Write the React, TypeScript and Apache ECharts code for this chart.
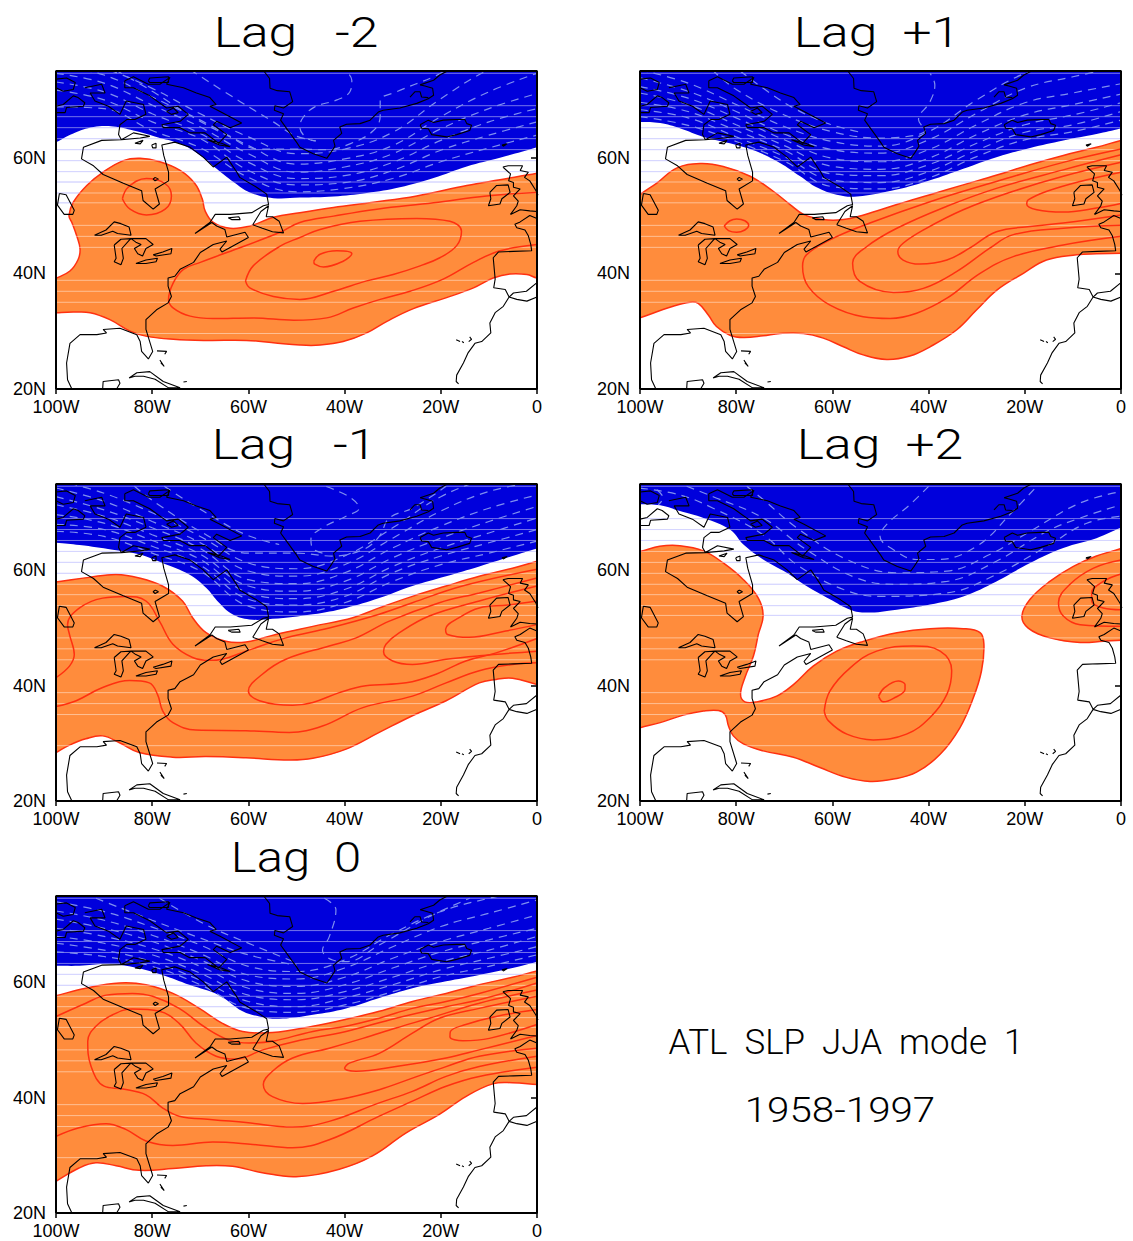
import React, { useEffect, useRef } from "react";
import * as echarts from "echarts";

type P = [number, number];

// ---- tick labels and texts
const xTicks = [-100, -80, -60, -40, -20, 0];
const yTicks = [20, 40, 60];
const panelTitles = ["Lag   -2", "Lag  +1", "Lag   -1", "Lag  +2", "Lag  0"];
const noteLines = ["ATL  SLP  JJA  mode  1", "1958-1997"];
const rowLats = [74.6, 69, 67.1, 65.2, 63.3, 61.4, 59.5, 57.6, 55.8, 53.9, 52.2, 48.3, 46.4, 44.5, 38.8, 36.9, 35, 29.6];
const rowLatsOnWhite = [74.6, 69, 67.1, 65.2, 63.3, 61.4, 59.5, 57.6, 55.8, 53.9, 52.2];
const dashLons = [-100, -90, -80, -70, -60, -50, -40, -30, -20, -10, 0];

// ---- coastlines (lon, lat)
const greenland: P[] = [[-56.8,75],[-55.6,73.7],[-55.5,72],[-54,71.6],[-51.4,71.4],[-50.8,69.7],[-52.7,68.6],[-54.5,69],[-54.6,68.2],[-52.7,67.6],[-53.3,66.5],[-52,65],[-50,62.7],[-49.3,61.8],[-46.5,60.7],[-43.7,59.9],[-43,60.7],[-42,62],[-42.3,63],[-40.6,64.2],[-41,65.3],[-39.6,65.8],[-36.8,65.9],[-34.7,66.5],[-33,67.9],[-32,68.2],[-28.5,68.6],[-25,69.4],[-22.6,70.2],[-21.5,70.8],[-21.7,72],[-23.3,72.4],[-24.3,72.6],[-21.5,73.4],[-20.2,74.3],[-18.8,74.9]];
const greenlandFjord: P[] = [[-26.4,70.5],[-25.4,71.4],[-24.3,71.4],[-24,70.5],[-22.6,70.4]];
const iceland: P[] = [[-24.3,65.7],[-22.6,66.5],[-21.5,66.1],[-19.5,66.5],[-16.7,66.6],[-15,66.6],[-14.6,65.9],[-13.6,65.6],[-14,64.7],[-16.7,64],[-18.8,63.6],[-21.9,64],[-22.6,65],[-24,65.1],[-24.3,65.7]];
const faroe: P[] = [[-7.3,62.2],[-6.2,62.4],[-7,62],[-7.3,62.2]];
const ireland: P[] = [[-9.8,54],[-8.4,55.2],[-6,55.3],[-5.6,54],[-7.3,52.9],[-7.7,52],[-10.1,51.7],[-9.6,52.9],[-9.8,54]];
const britain: P[] = [[-7.1,58.4],[-6,58.6],[-3,58.6],[-3.5,57.8],[-1.8,57.5],[-2.6,56.6],[-1.5,56],[-0.2,54.3],[0.2,53.5],[null as any,null as any],[-7.1,58.4],[-5.5,57.2],[-5.9,56],[-4.9,55.7],[-4.9,54.9],[-3.5,54.6],[-4.9,53.4],[-3.9,52.5],[-4.2,51.7],[-5.5,50.2],[-3.5,51],[-1.5,50.8],[0,50.7]];
const franceIberia: P[] = [[0,49.5],[-1.5,50],[-3.5,48.9],[-4.6,48.5],[-4.2,47.9],[-2.5,47.5],[-1.8,46.5],[-1.3,45],[-1.1,43.9],[-4.9,43.8],[-8,43.7],[-9.1,42.7],[-8.7,39],[-9,37.5],[-6.6,37.2],[-5.8,35.9],[-4.9,36.6],[-2.2,36.9],[0,38.4]];
const africa: P[] = [[0,35.9],[-2.1,35.2],[-4.2,35.5],[-5.8,35.9],[-7,34.3],[-8.7,33.2],[-9.8,31.4],[-9.6,29.7],[-11.5,28.2],[-12.9,27.9],[-14.3,26.3],[-15.3,24.5],[-16.7,22.4],[-16.8,21.3],[-16.3,20.9]];
const canaries: P[] = [[-16.8,28.5],[-16,28.2],[null as any,null as any],[-15.6,28.2],[-15.2,28],[null as any,null as any],[-14,29],[-13.6,28.6],[-14.2,28.2]];
const eastUS: P[] = [[-96.7,20],[-97.6,21.6],[-97.8,24.5],[-97.1,27.9],[-95,29.4],[-91.5,29.4],[-89.5,29.7],[-90.2,30.3],[-86.7,30.5],[-83.2,29.4],[-82.5,28.2],[-82.2,26.5],[-80.8,25.2],[-79.9,26.5],[-81.3,30.3],[-81.3,32],[-79.1,33.7],[-76.7,34.9],[-76,36],[-76.7,37.8],[-76.7,39.2],[-75.3,39.5],[-74.2,40.7],[-71.4,41.9],[-70,43.6],[-67.3,45],[-64.5,45.6],[-65.9,44.2],[-65.5,43.7],[-60,46.2],[-60.7,47.1],[-64.5,46.3],[-64.9,47.6],[-66.6,48.2],[-67.6,48.8],[-71.1,46.9],[-68,48.8],[-66.9,50.2],[-63.8,50.2],[-59.3,50.5],[-56.9,51.7],[-55.8,51.9],[-56.2,53.7],[-58.3,54.9],[-61.8,56.6],[-62.4,57.5],[-64.5,60.1],[-67.3,58.4],[-69.4,60.1],[-72.1,61.8],[-75.3,62.7],[-78,62.2],[-77.6,60.4],[-76.6,57.5],[-76.6,56],[-79.4,54.6],[-78.5,52],[-79.8,51.1],[-81.9,52.6],[-82.2,54.3],[-86,55.6],[-90.2,57.1],[-92.2,58.6],[-94.7,59.8],[-94.3,61.8],[-90.5,63],[-86.4,63.1]];
const newfoundland: P[] = [[-59.1,48.4],[-57.4,50.7],[-55.8,51.7],[-56.3,49.8],[-55,49.8],[-53.6,49],[-52.7,47],[-55,47.2],[-57.1,47.8],[-59.1,48.4]];
const anticosti: P[] = [[-64.2,49.6],[-62,49.8],[-61.7,49.3],[-63.5,49.3],[-64.2,49.6]];
const superior: P[] = [[-92,46.6],[-89.6,47.5],[-87.9,48.9],[-86.5,48.6],[-84.8,48],[-84.4,46.6],[-87.2,46.9],[-88.2,47.3],[-90.6,46.6],[-92,46.6]];
const michigan: P[] = [[-87.9,44.9],[-87.5,42.6],[-87.9,42],[-86.5,41.5],[-86,42.6],[-86.3,44.3],[-84.8,45.7],[-84.4,46],[-86.5,45.9],[-87.9,44.9]];
const huron: P[] = [[-84.4,46],[-81.3,46],[-79.8,45],[-81.3,44.3],[-82,43],[-83,43.4],[-83.7,44.3],[-82.3,45],[-83.4,45.4],[-84.4,46]];
const erie: P[] = [[-83.4,41.7],[-81.3,42.3],[-78.9,42.6],[-79.2,42],[-81.3,41.7],[-83.4,41.7]];
const ontario: P[] = [[-79.8,43.2],[-77.8,43.7],[-75.9,44.3],[-76.1,43.4],[-79.2,43],[-79.8,43.2]];
const winnipeg: P[] = [[-99.3,53.8],[-97.9,53.6],[-96.2,50.9],[-96.5,50.2],[-98.3,50.2],[-99.7,51.8],[-99.3,53.8]];
const cuba: P[] = [[-84.8,21.9],[-83.2,22.8],[-80.5,23],[-77.7,21.3],[-74.2,20.2],[-76.6,20.2],[-79.4,21.7],[-81.8,22.2],[-83.6,22.2],[-84.8,21.9]];
const yucatan: P[] = [[-90.3,20],[-90.2,21.3],[-87,21.6],[-86.7,21],[-87.4,20]];
const bahamas: P[] = [[-79,26.6],[-77,26.5],[-77.4,26],[null as any,null as any],[-78.4,25],[-77.5,23.9],[-78.2,24.5],[null as any,null as any],[-73.5,21.2],[-72.8,21.3]];
const arcticWest: P[] = [[-100,68.9],[-98.5,69.2],[-96.4,70.7],[-95.4,70.4],[-94,69.5],[-94.3,68.9],[-97.8,68.7],[-98.1,67.8],[-100,67.8]];
const arcticIsland: P[] = [[-100,73.6],[-97.8,73.8],[-96,73],[-96.4,71.8],[-98.5,71.5],[-100,72.1]];
const arcticMainland: P[] = [[-94,72.1],[-90.5,72.7],[-89.8,71.2],[-92.9,71.2],[-91.9,69.8],[-89.1,68.9],[-86.7,67.5],[-85.4,69.8],[-81.8,69.2],[-81.3,67.5],[-83.6,66.6],[-85.3,66.6],[-86.7,65.7],[-87,64],[-86.4,63.1],[-83.9,64.3],[-80.5,63.7],[-82.5,63.4],[-86.4,63.1]];
const baffin: P[] = [[-85.7,73.3],[-83.9,74],[-80.8,72.7],[-78.4,72.7],[-76.3,73.9],[-77,72.7],[-73.5,72.1],[-70.8,71.2],[-68,70.4],[-66.7,69.2],[-68,68.9],[-65.9,68],[-61.4,66],[-63.8,65.2],[-66.6,66.3],[-67.3,65.7],[-64.5,64],[-66.2,62.5],[-69,64.3],[-72.2,64.3],[-74.2,65.2],[-77.7,65.2],[-78,65.7],[-74.2,66.3],[-72.5,67.5],[-74.6,68.9],[-77,68.6],[-80.5,70.7],[-83.9,72.1],[-85.7,72.1],[-85.7,73.3]];
const devon: P[] = [[-80.8,73.3],[-80.5,73.8],[-76.6,74],[-76.6,73],[-80.5,73],[-80.8,73.3]];
const foxe: P[] = [[-77,68],[-75.6,68.6],[-74.6,67.8],[-76,67.5],[-77,68]];
const coats: P[] = [[-83.6,62.5],[-81.9,63],[-82.5,62.4],[-83.6,62.5]];
const mansel: P[] = [[-80.1,62.2],[-79.2,62.5],[-79.2,61.7],[-79.9,61.7],[-80.1,62.2]];
const akimiski: P[] = [[-79.4,56.6],[-78.7,56.3],[-79.4,56],[-79.8,56.3],[-79.4,56.6]];
const resolution: P[] = [[-68.5,63.1],[-65.6,62.5],[-63.8,61.9],[-66,62.2],[-68.5,63.1]];
const coastLines = [greenland, greenlandFjord, iceland, faroe, ireland, britain, franceIberia, africa, canaries, eastUS, newfoundland, anticosti, superior, michigan, huron, erie, ontario, winnipeg, cuba, yucatan, bahamas, arcticWest, arcticIsland, arcticMainland, baffin, devon, foxe, coats, mansel, akimiski, resolution];

// ---- Lag -2
const blueEdgeA: P[] = [[-106,60],[-99.9,62.7],[-96.4,64.2],[-92.2,65.3],[-88.1,65.4],[-83.9,64.7],[-79.1,63.6],[-74.2,62.4],[-70,60.4],[-66.6,58.1],[-63.1,55.8],[-59.7,54],[-54.8,53],[-49.3,53.1],[-42.3,53.3],[-35.4,53.9],[-28.5,54.9],[-21.5,56.5],[-14.6,58.5],[-7.7,60],[0,61.8],[6,63.5],[6,90],[-106,90]];
const orangeA: P[][] = [[[-105,37.5],[-99.9,39.2],[-97.1,40.4],[-95.4,42.4],[-95,44.2],[-95.7,46.5],[-96.7,48.8],[-97.3,50],[-96.4,52.3],[-93.6,55.2],[-90.2,57.5],[-86,59.5],[-82.5,59.9],[-78.4,59.3],[-74.2,57.8],[-71.1,55.5],[-69.6,52.9],[-69,50.8],[-67.3,48.8],[-63.8,47.8],[-59.7,48.2],[-54.8,49.7],[-49.3,50.5],[-42.3,51.4],[-34,52.3],[-25,53.4],[-14.6,55.2],[-7.7,56.2],[0,57.3],[6,58.3],[6,38.5],[0,39.2],[-2.1,39.8],[-5.6,39.9],[-9.1,39.2],[-13.2,37.5],[-18.8,35.8],[-25.7,33.9],[-31.2,31.7],[-35.4,29.7],[-40.3,28.2],[-45.1,27.6],[-49.3,27.6],[-54.8,28],[-60.4,28.4],[-68.7,28.4],[-75.6,28.6],[-81.1,29.1],[-84.6,30],[-88.8,32],[-92.9,33.2],[-96.4,33.3],[-99.9,33.2],[-105,33]]];
const redA: P[][] = [
  [[-86.2,52.9],[-85,54.9],[-81.2,56.4],[-77.3,55.5],[-76,53.4],[-77.3,51.1],[-81.2,50.1],[-84.6,51.1],[-86.2,52.9]],
  [[0,54],[-10.5,53.4],[-21.5,52.2],[-33.3,51.1],[-42.3,49.9],[-49.3,48.8],[-53.4,47.1],[-64.5,43.6],[-70,41.9],[-73.5,40.7],[-75.6,38.4],[-76.6,35.5],[-75.6,34],[-72.1,32.6],[-67.3,32.2],[-59,32.3],[-50.6,31.9],[-43.7,32.3],[-38.2,34],[-32.6,35.5],[-26.4,36.9],[-19.5,39],[-13.2,41.9],[-7.7,43.9],[0,45]],
  [[-60.6,38.7],[-59,41.3],[-53.4,44.7],[-49.3,46.2],[-45.1,47.6],[-36.8,49],[-25,49.5],[-18.1,49],[-15.7,47.3],[-16.7,44.8],[-20.2,42.7],[-24.3,41.3],[-29.9,39.8],[-35.4,38.7],[-42.3,36.9],[-49.3,35.5],[-54.8,36],[-59.7,37.5],[-60.6,38.7]],
  [[-46.4,42.1],[-45.1,43.3],[-41.6,43.9],[-38.5,43.4],[-40.3,42.1],[-44.4,41.1],[-46.2,41.6],[-46.4,42.1]],
];
const dashLatsA = [
  [68.8,68.5,64.7,61.7,56.6,54.1,54.7,56.4,59.3,61.7,63.9],
  [71.7,70,66.2,63.3,57.8,55.3,55.7,57.8,61.3,63.9,66.2],
  [73.1,71.4,67.6,64.2,59.2,56.4,56.9,59.2,63,66.2,68.5],
  [74.6,72.9,69.1,65.3,60.7,57.5,58.4,60.7,65,68.5,71.1],
  [76,74.3,70.5,66.5,62.1,58.9,59.8,62.1,67.1,71.4,74.6],
  [78,75.5,72,67.6,63.6,60.7,61.5,64.4,70.2,75.2,78],
];
const dashExtraA: P[][] = [
  [[-87.7,75.2],[-79.8,71.4],[-72.1,67.3],[-64.5,63.9],[-57.6,61.5],[-50.6,61.5],[-43.7,61.4],[-38.9,62.4],[-34,64.7],[-32.6,67.3],[-32.6,69.9],[-29.2,71.4],[-21.5,74],[-18.8,75.2]],
  [[-72.1,75.2],[-61.7,69.7],[-54.8,66.2],[-50.5,63.9],[-46,62.9]],
  [[-46,62.9],[-47.9,63.4],[-49.3,65.3],[-48.6,67],[-46.2,68.8],[-41.6,70],[-38.9,71.4],[-38.5,73.4],[-39.6,74.9]],
];

// ---- Lag +1
const blueEdgeB: P[] = [[-106,66.3],[-100,66.2],[-95.8,66],[-91.7,65.1],[-86.8,63.6],[-81.3,62.5],[-75.8,61.1],[-70.9,59.1],[-66.7,56.8],[-63.3,54.9],[-59.1,53.6],[-54.9,53.3],[-46.6,54.5],[-39.7,56.1],[-32.8,58.1],[-25.9,60.1],[-18.9,61.7],[-12,63],[-5.1,64.1],[0,65.1],[6,66.5],[6,90],[-106,90]];
const orangeB: P[][] = [[[-105,50],[-100,53.6],[-96.5,55.6],[-92.4,58.2],[-87.5,59],[-82.7,58.5],[-77.1,56.8],[-72.3,54.2],[-68.8,51.9],[-66,50.2],[-61.9,49.3],[-57.7,49.3],[-53.5,50.1],[-46.6,51.9],[-39.7,53.6],[-32.8,55.3],[-25.8,57],[-18.9,58.8],[-12,60.4],[-5.1,61.8],[0,63],[6,64.2],[6,43.4],[0,43.5],[-5.1,43.4],[-9.2,43.2],[-15.5,42.3],[-20.3,40],[-25.8,37.1],[-30,33.7],[-34.2,30.2],[-39.7,27.3],[-43.9,25.7],[-48.7,25.1],[-53.6,25.9],[-57.7,27.3],[-61.9,28.8],[-66,29.6],[-70.9,29.6],[-74.4,29.2],[-78.5,28.9],[-81.3,29.3],[-84.1,30.8],[-85.8,32.8],[-87.9,34.8],[-89.6,35],[-93.1,34.3],[-100,32.3],[-105,30.8]]];
const redB: P[][] = [
  [[-82.5,48.2],[-81.3,49.1],[-79.9,49.4],[-78.2,49.1],[-77.4,48.3],[-78.2,47.5],[-79.9,47.1],[-81.6,47.4],[-82.5,48.2]],
  [[0,61.5],[-12,59.2],[-25.9,55.9],[-39.7,52.4],[-52.2,48.7],[-60.5,45.8],[-65.4,43.2],[-66.2,41.2],[-65,37.7],[-60.5,34.5],[-53.6,32.5],[-48,32.2],[-42.5,33.1],[-36.2,35.7],[-29.3,40],[-22.4,42.9],[-12,44.9],[0,46.4]],
  [[0,60.5],[-12,57.9],[-25.9,54.7],[-36.2,51.6],[-46.6,47.8],[-52.9,44.6],[-55.8,41.8],[-54.3,38.6],[-47.3,36.7],[-41.1,37.4],[-34.2,40.3],[-27.2,44.4],[-22.4,46.7],[-12,47.8],[0,48.3]],
  [[0,59.2],[-12,56.8],[-22.4,54.2],[-32.8,51],[-41.1,47.5],[-45.3,45.2],[-46.4,43.8],[-45.3,42.3],[-41.8,41.6],[-36.2,42.3],[-31.4,44.4],[-25.9,47.2],[-18.9,48.1],[-12,48.7],[0,50.1]],
  [[0,57.5],[-8.5,55.9],[-15.4,54.2],[-19.3,52.7],[-19.6,52],[-17.5,51],[-12,50.6],[-5.1,51.3],[0,52.1]],
];
const dashLatsB = [
  [67.1,65.6,62.8,59.4,55,54.6,56.5,60.2,63.1,64.5,66.5],
  [68.3,66.9,63.6,60.2,56.1,55.7,57.6,61.3,64.4,65.7,68],
  [69.6,68,64.7,61.3,57.2,56.9,58.8,62.5,65.7,67.4,69.5],
  [71.2,69.2,65.7,62.1,58.5,58,59.9,64,67.4,69.2,71],
  [72.3,70.3,66.9,63.1,59.9,59.3,61.4,65.7,69.5,71.2,72.8],
  [73.8,71.5,68,64.1,61.4,60.8,63.1,67.7,72,74,75.8],
  [75.2,72.9,69.2,65.4,62.8,62,64.5,70,74.6,77,78],
];
const dashExtraB: P[][] = [
  [[-85,75.2],[-80,71.8],[-70,67.4],[-60,64.5],[-50,63.4],[-40.7,64.8],[-42.1,66.6],[-39.7,69.7],[-38.7,72.6],[-39.7,74.6]],
  [[-79.2,75],[-73,71.2],[-67.4,68.3],[-60.5,65.8],[-53.6,64.3]],
];

// ---- Lag -1
const blueEdgeC: P[] = [[-106,65],[-100,64.8],[-95.1,64.4],[-88.2,63.6],[-82.7,62.8],[-77.9,61.3],[-72.3,59.3],[-68.8,57],[-66.1,54.4],[-63.3,52.4],[-59.8,51.5],[-55,51.6],[-46.6,52.4],[-39.7,53.5],[-32.8,55.2],[-25.9,57.3],[-18.9,59],[-12,60.7],[-5.1,62.5],[0,63.8],[6,65.3],[6,90],[-106,90]];
const orangeC: P[][] = [[[-106,57.4],[-100,58],[-93.1,58.8],[-87.5,59.3],[-82.7,58.7],[-77.9,57.3],[-73.7,54.7],[-71.6,51.8],[-68.8,49.2],[-64.7,47.7],[-60.5,47.6],[-54.3,48.9],[-46.6,50.3],[-38.3,51.8],[-32.8,53.5],[-25.9,55.5],[-18.9,57.3],[-12,59],[-5.1,60.4],[0,61.6],[6,63],[6,39],[0,40.2],[-5.1,41.3],[-8.5,41.1],[-12,40.5],[-18.9,37.4],[-25.9,34.8],[-32.8,31.9],[-39.7,29],[-46.6,27.4],[-51.5,27.1],[-60.5,27.5],[-68.8,27.7],[-75.8,27.6],[-82.7,28.4],[-86.8,30.1],[-90.3,31.3],[-93.8,30.8],[-97.2,29.7],[-100,28.4],[-106,25.5]]];
const redC: P[][] = [
  [[-100,41.4],[-97.2,43.4],[-96.2,45.4],[-97.2,48.9],[-97.6,50.6],[-95.1,53.5],[-90.3,55.2],[-85.4,55.5],[-81.3,54.7],[-78.5,51.2],[-75.7,47.2],[-71.6,44.9],[-68.1,44.4],[-65.4,44.6],[-60.5,46],[-52.2,48.3],[-43.2,50],[-32.8,52.4],[-25.9,54.4],[-15.5,57.3],[0,60.2]],
  [[-100,36.4],[-95.8,37.4],[-90.3,39.7],[-84.7,40.9],[-80.6,40.5],[-78.9,38.5],[-77.8,35.6],[-75.7,33.6],[-70.9,32.3],[-60.5,32.2],[-51.5,31.9],[-44.6,33],[-36.2,36.2],[-25.9,38.2],[-18.9,40.5],[-12,42.6],[-5.1,43.7],[0,44]],
  [[0,58.7],[-12,56.1],[-20.3,54.4],[-30.7,51.2],[-37.6,48.3],[-43.2,46.9],[-52.2,44.6],[-57.1,42],[-60,39.1],[-57.7,37.4],[-50.8,36.6],[-46.6,37.1],[-41.1,38.8],[-35.6,40],[-27.2,40.5],[-21,42],[-14.8,44.3],[-8.5,45.7],[0,48.2]],
  [[0,57.3],[-12,54.7],[-22.4,52.1],[-28.6,49.2],[-31.4,47.2],[-31.9,45.9],[-30,44.3],[-25.9,43.7],[-18.9,44.6],[-12,45.2],[0,46]],
  [[0,54.7],[-6,54],[-12,53.5],[-16.2,51.8],[-19,49.8],[-18.6,48.9],[-14.1,48.4],[-6.5,49.5],[0,50.6]],
];
const dashLatsC = [
  [66.8,65.9,63,59.9,53.8,52.8,54.4,58.1,61,63,65.1],
  [68,67.1,64.2,60.9,55,54,55.5,59.6,62.5,64.8,67.1],
  [69.7,68.2,65.2,61.9,56.1,55.1,56.7,60.7,63.9,66.5,69.1],
  [71.4,69.4,66.2,62.8,57.3,56.4,58.1,62.2,65.6,68.5,71.1],
  [72.8,70.5,67.4,63.8,58.4,57.7,59.6,63.9,67.7,70.8,73.1],
  [74.3,72,68.5,64.8,59.9,59,61,65.6,70.3,73.7,75.4],
  [75.7,73.4,70,65.9,61.3,60.3,62.5,67.4,72.8,76,78],
];
const dashExtraC: P[][] = [
  [[-83.7,74.6],[-79.2,71.7],[-70,66.8],[-60,63],[-50,63],[-42.5,62.5],[-36.2,63.6],[-32.8,65.9],[-30.7,69.1],[-25.9,70.8],[-18.9,74.6]],
  [[-77.5,74.6],[-68.8,70],[-60.5,66.2],[-53.6,64.5]],
  [[-44.6,63],[-46.6,63.8],[-47,65.4],[-44.6,67.4],[-39.7,69.4],[-37,70.8],[-38.7,72.6],[-43.9,74.6]],
];

// ---- Lag +2
const blueEdgeD: P[] = [[-106,71.6],[-100,71.5],[-95.8,71.3],[-91.7,70.3],[-86.8,69.1],[-81.3,67.1],[-78.5,64.5],[-74.4,61.9],[-69.5,59.6],[-65.4,57.3],[-60.5,55],[-56.3,53.2],[-52.9,52.7],[-46.6,53.2],[-39.7,54.1],[-32.8,55.5],[-25.9,58.1],[-18.9,61.3],[-12,63.9],[-5.1,65.6],[0,67.4],[6,69],[6,90],[-106,90]];
const orangeD: P[][] = [
  [[-106,62.5],[-100,63.3],[-95.9,64.2],[-91.7,64.3],[-86.8,63.4],[-82.7,61.3],[-78.5,58.4],[-75.4,55.2],[-74.4,52.2],[-75.4,48.9],[-76.4,45.2],[-78.2,41.4],[-79.1,38.5],[-78.2,37.2],[-75.7,37.2],[-71.6,38.2],[-68.1,40.2],[-64,43.4],[-59.1,46],[-53.6,47.7],[-46.6,49.2],[-39.7,49.9],[-32.8,49.9],[-29.3,49.2],[-28.5,47.2],[-29,42.6],[-30.7,37.9],[-33.5,32.7],[-37.6,28.1],[-42.5,25],[-47.3,23.8],[-52.2,23.4],[-57.1,24.1],[-62.6,25.8],[-68.1,27.6],[-74.4,28.7],[-78.5,29.9],[-80.6,31.3],[-81.6,33],[-82.3,35],[-83.7,35.7],[-86.8,35.6],[-91,34.9],[-95.8,33.6],[-100,32.7],[-106,31.2]],
  [[6,65.5],[0,63.8],[-5.1,62.5],[-9.9,60.7],[-14.8,58.1],[-18.9,55],[-20.6,52.1],[-19.3,50],[-14.8,48.3],[-8.5,47.5],[-3.7,47.7],[0,47.9],[6,48]],
];
const redD: P[][] = [
  [[0,61.8],[-5.7,60.4],[-10.6,57.6],[-13,54.4],[-12,52.1],[-8.5,50.6],[0,50.3]],
  [[0,59.4],[-3.7,58.1],[-6.1,56.1],[-6.1,54.7],[-3.7,53.5],[0,53.2]],
  [[-61.7,35.6],[-60.5,39.1],[-56.3,43.1],[-50.8,46],[-43.2,46.9],[-37.6,46],[-35.2,42.6],[-36.2,38.5],[-39.7,34.5],[-44.6,31.6],[-51.5,30.6],[-57,31.6],[-60.8,33.9],[-61.7,35.6]],
  [[-50.4,38.2],[-49.1,39.7],[-46.3,40.8],[-44.9,40.2],[-44.9,39.4],[-47.3,37.8],[-49.4,37.2],[-50.4,38.2]],
];
const dashLatsD: number[][] = [];
const dashExtraD: P[][] = [
  [[-100,74.3],[-91.7,73.1],[-84.8,70.8],[-74.4,66.2],[-67.4,61],[-57.7,56.7],[-50.1,55.5],[-36.2,56.1],[-25.9,59.3],[-15.4,64.2],[-7.1,68.2],[0,69.4]],
  [[-90.3,74.6],[-84.8,72.8],[-74.4,69.1],[-65.4,63.6],[-55,58.7],[-46.6,57.6],[-36.2,58.1],[-25.9,61.6],[-15.4,66.8],[-8.5,69.1],[0,71.4]],
  [[-77.8,74.6],[-74.4,72.3],[-67.4,67.4],[-57,61.9],[-46.6,59.6],[-36.2,59.9],[-27.2,62.8],[-18.9,66.8],[-8.5,71.7],[0,73.7]],
  [[-40,74.6],[-43.9,71.4],[-48.7,68],[-50.1,65.9],[-47.3,63.6],[-42.5,61.9],[-38.3,61.9],[-30,64.2],[-22.4,70.3],[-17.5,74.6]],
  [[-96.5,74],[-95.2,72.6],[-96.2,71.4]],
];

// ---- Lag 0
const blueEdgeE: P[] = [[-106,62.9],[-100,62.9],[-95.1,62.9],[-89.6,63.2],[-84.8,62.8],[-77.9,61.3],[-72.3,59.6],[-66.1,57.8],[-61.2,55],[-57.7,54.1],[-53.6,53.7],[-46.6,54.4],[-39.7,55.5],[-32.8,57.3],[-25.9,59],[-18.9,60.2],[-12,61.3],[-5.1,62.5],[0,63.6],[6,65],[6,90],[-106,90]];
const orangeE: P[][] = [[[-106,56.5],[-100,57.7],[-93.8,59],[-86.8,59.9],[-81.3,59.6],[-75.7,58.1],[-70.2,55.5],[-65.4,52.9],[-61.2,51.5],[-55,51.3],[-46.6,52.4],[-39.7,53.6],[-32.8,55],[-25.9,56.7],[-18.9,58.1],[-12,59.6],[-5.1,60.9],[0,62],[6,63.2],[6,42],[0,42.3],[-5.1,42.6],[-9.2,42.4],[-14.8,40.2],[-20.3,37.1],[-27.2,33.9],[-34.2,29.9],[-41.1,27.6],[-50.1,26.3],[-57.1,27],[-63.3,28.1],[-68.8,28.2],[-75.7,27.7],[-82.7,27.4],[-87.5,28.2],[-91.7,28.7],[-95.2,27.8],[-100,25.5],[-106,22.5]]];
const redE: P[][] = [
  [[-100,54.1],[-93.8,56.4],[-89.6,57.8],[-84.1,58.1],[-79.9,57.6],[-74.4,55.5],[-68.8,52.1],[-64,50],[-59.8,49.5],[-55,49.8],[-46.6,51.5],[-39.7,52.4],[-32.8,53.8],[-25.9,55.5],[-18.9,56.7],[-12,58.1],[0,60.9]],
  [[0,59.9],[-12,57],[-18.9,55.8],[-29.3,53.8],[-39.7,51.5],[-50.1,49.8],[-57,48.3],[-62.6,46.7],[-66.7,47.2],[-70.9,49.5],[-74.4,52.9],[-78.5,55],[-84.1,55.4],[-88.2,54.4],[-91.7,52.4],[-93.4,49.8],[-92.7,45.4],[-90,42],[-86.1,41.5],[-81.3,40.5],[-77.8,38.2],[-74.4,36.8],[-67.4,36.2],[-60.5,35.7],[-50.8,34.9],[-43.2,35.9],[-32.8,39.1],[-25.9,41.1],[-18.9,43.7],[-12,45.4],[0,47.2]],
  [[-100,33.3],[-95.2,34.8],[-89.6,35.5],[-85.5,34.5],[-81.3,32.5],[-75.7,31.7],[-67.4,32.3],[-59.1,31.9],[-50.8,31.3],[-43.2,32.7],[-32.8,36.8],[-25.9,39.4],[-18.9,42],[-12,43.7],[0,45.3]],
  [[0,58.7],[-12,56.4],[-22.4,53.8],[-29.3,52.1],[-36.2,50.3],[-43.2,48.6],[-50.8,46.9],[-55,44.6],[-56.9,42.3],[-55,40.2],[-48.7,39],[-41.1,39.7],[-32.8,41.4],[-25.9,43.4],[-18.9,45.4],[-12,47.2],[0,48.6]],
  [[0,57.6],[-12,55.5],[-20.3,53.8],[-25.9,51.2],[-32.8,47.7],[-39,46],[-40,45.1],[-37.6,44.6],[-29.3,45.4],[-18.9,46.9],[-12,48.3],[0,50.8]],
  [[0,55.3],[-8.5,54.1],[-14.8,52.7],[-18,51.5],[-18.1,50.6],[-15.4,49.9],[-9.9,50.3],[0,52.7]],
];
const dashLatsE = [
  [65.3,64.5,62.8,59.6,55.5,54.8,56.1,58.4,61,62.8,64.8],
  [66.8,65.6,63.6,60.4,56.7,55.8,57.3,59.6,62.2,64.2,66.2],
  [68,66.8,64.8,61.6,57.8,57,58.4,60.9,63.6,65.6,68],
  [69.4,68,65.9,62.8,59,58.1,59.6,62.5,65.3,67.4,69.4],
  [71,69.4,67.1,63.9,60.2,59.3,60.9,64.2,67.1,69.4,71.7],
  [72.4,70.8,68.2,65,61.3,60.6,62.5,66.2,69.7,72,74.3],
  [74,72.3,69.6,66.5,62.8,61.9,63.9,68.5,72.3,74.6,76.3],
];
const dashExtraE: P[][] = [
  [[-91.7,74.6],[-80,70.8],[-70,67.7],[-60,64.8],[-50,63]],
  [[-44.2,74.6],[-41.8,72.6],[-43.2,67.9],[-44.6,65.6],[-42.5,63.9],[-39.7,63.6],[-32.8,66.5],[-22.4,71.4],[-14,74.6]],
  [[-78.5,74.6],[-68.8,70],[-59.1,66.5],[-50,63.4]],
];

const panels = [
  { blue: blueEdgeA, orange: orangeA, red: redA, lats: dashLatsA, extra: dashExtraA },
  { blue: blueEdgeB, orange: orangeB, red: redB, lats: dashLatsB, extra: dashExtraB },
  { blue: blueEdgeC, orange: orangeC, red: redC, lats: dashLatsC, extra: dashExtraC },
  { blue: blueEdgeD, orange: orangeD, red: redD, lats: dashLatsD, extra: dashExtraD },
  { blue: blueEdgeE, orange: orangeE, red: redE, lats: dashLatsE, extra: dashExtraE },
];

// ---- layout and styling
const boxes = [
  { left: 56, top: 71, height: 318, tx: 296, ty: 33 },
  { left: 640, top: 71, height: 318, tx: 877, ty: 33 },
  { left: 56, top: 484, height: 317, tx: 294, ty: 445 },
  { left: 640, top: 484, height: 317, tx: 880, ty: 445 },
  { left: 56, top: 896, height: 317, tx: 296, ty: 857 },
];
const BLUE = "#0000dc";
const ORANGE = "#ff8c3c";
const RED = "#ff3010";
const DASH = "#7f8ff0";
const THIN = "Roboto";

const BREAK: any = [null, null];
const joined = (list: P[][]) => list.flatMap((l, i) => (i ? [BREAK, ...l] : l));

function fillSeries(points: P[], idx: number, fill: string, stroke: string | undefined, z: number) {
  return {
    type: "custom",
    xAxisIndex: idx,
    yAxisIndex: idx,
    z,
    silent: true,
    data: [points[1]],
    renderItem: (params: any, api: any) => {
      const c = params.coordSys;
      return {
        type: "polygon",
        shape: { points: points.map((p) => api.coord(p)), smooth: 0.4 },
        style: { fill, stroke: stroke ?? "none", lineWidth: 1.5 },
        clipPath: { type: "rect", shape: { x: c.x, y: c.y, width: c.width, height: c.height } },
      };
    },
  };
}

function lineSeries(data: any[], idx: number, color: string, width: number, z: number, smooth: number | false, dashed?: number[]) {
  return {
    type: "line",
    xAxisIndex: idx,
    yAxisIndex: idx,
    data,
    z,
    silent: true,
    symbol: "none",
    smooth,
    clip: true,
    lineStyle: { color, width, type: dashed ?? "solid" },
  };
}

export default function App() {
  const ref = useRef<HTMLDivElement>(null);
  useEffect(() => {
    document.body.style.margin = "0";
    const chart = echarts.init(ref.current!, undefined, { renderer: "svg" });
    const rows = joined(rowLats.map((la) => [[-100, la], [0, la]] as P[]));
    const rowsWhite = joined(rowLatsOnWhite.map((la) => [[-100, la], [0, la]] as P[]));
    const coast = joined(coastLines);
    const series: any[] = [];
    panels.forEach((p, i) => {
      series.push(lineSeries(rowsWhite, i, "#b4b4ff", 1, 1, false));
      series.push(fillSeries(p.blue, i, BLUE, undefined, 2));
      p.orange.forEach((o) => series.push(fillSeries(o, i, ORANGE, RED, 2)));
      series.push(lineSeries(rows, i, "rgba(255,255,255,0.45)", 1, 3, false));
      p.red.forEach((r) => series.push(lineSeries(r, i, RED, 1.5, 4, 0.4)));
      p.lats.forEach((l) =>
        series.push(lineSeries(l.map((la, k) => [dashLons[k], la]), i, DASH, 1.2, 4, 0.4, [8, 6]))
      );
      p.extra.forEach((e) => series.push(lineSeries(e, i, DASH, 1.2, 4, 0.4, [8, 6])));
      series.push(lineSeries(coast, i, "#000000", 1.1, 5, false));
      const frame: P[] = [[-100, 20], [0, 20], [0, 75], [-100, 75], [-100, 20]];
      series.push({ ...lineSeries(frame, i, "#000000", 2, 6, false), clip: false });
    });
    const titleText = panelTitles.map((t, i) => ({
      type: "text",
      x: boxes[i].tx,
      y: boxes[i].ty,
      scaleX: i === 4 ? 1.14 : 1.2,
      style: { text: t, fontSize: 43, fontFamily: THIN, fontWeight: 300, fill: "#000", textAlign: "center", textVerticalAlign: "middle" },
    }));
    const noteText = noteLines.map((t, i) => ({
      type: "text",
      x: i ? 840 : 846,
      y: i ? 1110 : 1042,
      scaleX: i ? 1.12 : 0.97,
      style: { text: t, fontSize: 36, fontFamily: THIN, fontWeight: 300, fill: "#000", textAlign: "center", textVerticalAlign: "middle" },
    }));
    chart.setOption({
      animation: false,
      backgroundColor: "#ffffff",
      grid: boxes.map((b) => ({ left: b.left, top: b.top, width: 481, height: b.height, show: false })),
      xAxis: boxes.map((_, i) => ({
        type: "value",
        gridIndex: i,
        min: -100,
        max: 0,
        interval: 20,
        splitLine: { show: false },
        axisLine: { show: false },
        axisTick: { show: true, length: 5, lineStyle: { color: "#000", width: 1.5 }, customValues: xTicks },
        axisLabel: {
          color: "#000",
          fontSize: 18,
          fontFamily: "Liberation Sans",
          margin: 9,
          hideOverlap: false,
          customValues: xTicks,
          formatter: (v: number) => (v === 0 ? "0" : `${Math.abs(v)}W`),
        },
      })),
      yAxis: boxes.map((_, i) => ({
        type: "value",
        gridIndex: i,
        min: 20,
        max: 75,
        interval: 20,
        splitLine: { show: false },
        axisLine: { show: false },
        axisTick: { show: true, length: 6, lineStyle: { color: "#000", width: 1.5 }, customValues: yTicks },
        axisLabel: {
          color: "#000",
          fontSize: 18,
          fontFamily: "Liberation Sans",
          margin: 10,
          customValues: yTicks,
          formatter: (v: number) => `${v}N`,
        },
      })),
      series,
      graphic: [...titleText, ...noteText],
    });
    return () => chart.dispose();
  }, []);
  return <div ref={ref} style={{ position: "absolute", left: 0, top: 0, width: 1133, height: 1241 }} />;
}
